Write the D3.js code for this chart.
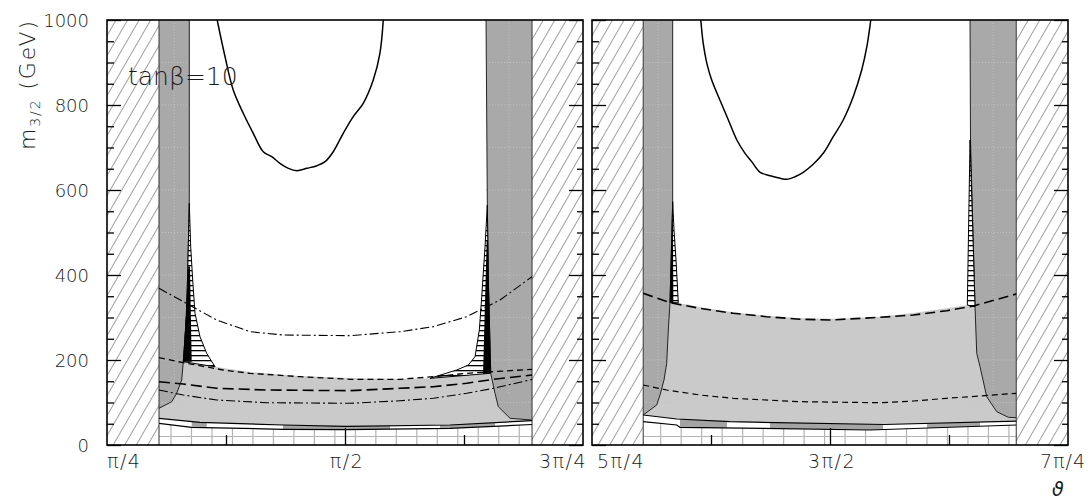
<!DOCTYPE html>
<html><head><meta charset="utf-8">
<script src="https://cdn.jsdelivr.net/npm/d3@7"></script>
<style>
html,body{margin:0;padding:0;background:#fff;}
svg{display:block;}
text{font-family:'DejaVu Sans',sans-serif;font-weight:200;fill:#1a1a1a;}
</style></head><body>
<svg id="chart" width="1088" height="499"></svg>
<script>
const PI = Math.PI;

// ---------- axis values ----------
const yMajorTicks = [0, 200, 400, 600, 800, 1000];
const yMinorTicks = d3.range(0, 1001, 50);
const xTickLabelsL = [{v: PI/4, t: 'π/4'}, {v: PI/2, t: 'π/2'}, {v: 3*PI/4, t: '3π/4'}];
const xTickLabelsR = [{v: 5*PI/4, t: '5π/4'}, {v: 3*PI/2, t: '3π/2'}, {v: 7*PI/4, t: '7π/4'}];

// ---------- left panel (theta in [pi/4, 3pi/4]) ----------
const allowedL = [0.957, 2.188];
const stripInnerL1 = [[1.057,1000],[1.057,568.7],[1.0537,466.6],[1.0484,309.9],[1.0372,196],[1.0319,152.9],[1.0154,121.6],[0.9989,101.9],[0.957,86.4]];
const stripInnerL2 = [[2.0362,1000],[2.0405,564.7],[2.0438,388.2],[2.0494,231.3],[2.0517,168.7],[2.0659,121.6],[2.0768,90.1],[2.1154,62.8],[2.188,58.8]];
const spikeL1 = [[1.057,568.7],[1.0537,466.6],[1.0484,309.9],[1.0372,196],[1.1418,184.2],[1.1144,215.8],[1.0923,254.8],[1.0758,309.9],[1.0682,388.2],[1.0616,466.6]];
const solidL1 = [[1.0535,420],[1.0592,420],[1.0649,196],[1.0372,196]];
const spikeL2 = [[2.0405,564.7],[2.0438,388.2],[2.0494,231.3],[2.0517,168.7],[1.8514,156.9],[1.9395,176.5],[1.9778,188.2],[1.9999,207.8],[2.0141,270.6],[2.0220,348.9],[2.0329,466.6]];
const solidL2 = [[2.0385,482.4],[2.0425,482.4],[2.0510,169.4],[2.0263,167.1]];
const lightTopL = [[0.957,196],[1.0372,196],[1.1418,184.2],[1.2573,171.8],[1.4224,162.4],[1.5874,157.6],[1.7524,155.3],[1.8514,156.9],[2.0517,168.7],[2.188,168.7]];
const upperLineL = [[0.957,62.8],[1.0923,53.4],[1.3672,47.1],[1.5742,44],[1.9174,47.1],[2.188,57.2]];
const lowerLineL = [[0.957,51.1],[1.0649,41.6],[1.3672,36.9],[1.5742,36],[1.9174,39.3],[2.188,48.2]];
const patchesL = [[1.0649,1.1144],[1.3663,1.7194],[1.8844,2.0659]];
const dashDotUpperL = [[0.957,368.7],[1.0372,337.2],[1.1474,294.1],[1.2573,266.6],[1.3672,258.8],[1.5874,257.2],[1.7524,266.6],[1.8623,278.4],[1.9725,301.9],[2.0273,321.6],[2.0824,341.2],[2.188,396]];
const shortDashL = [[0.957,205.4],[1.0372,193.6],[1.1692,176.5],[1.2573,168.7],[1.4224,160.7],[1.5874,154.6],[1.7524,154.6],[1.8623,160.7],[1.9725,168.7],[2.0603,172.5],[2.188,178.1]];
const longDashL = [[0.957,148.9],[1.0372,143.5],[1.1474,133.4],[1.3125,129.4],[1.5874,127.8],[1.7524,133.4],[1.8623,137.2],[1.9725,145.2],[2.0603,154.6],[2.188,164.7]];
const dashDotLowerL = [[0.957,129.4],[1.0372,117.6],[1.1474,105.9],[1.3125,99.5],[1.5874,98.1],[1.7524,104.2],[1.8623,109.9],[1.9725,121.6],[2.0603,133.4],[2.188,154]];
const contourL = [[1.149,1000],[1.175,913.6],[1.202,835.3],[1.235,780.5],[1.268,733.4],[1.301,690.1],[1.329,678.4],[1.356,662.8],[1.384,651],[1.412,645.4],[1.445,651],[1.478,657.2],[1.505,666.6],[1.532,690.1],[1.565,733.4],[1.598,772.5],[1.631,804],[1.664,858.8],[1.686,921.6],[1.697,1000]];

// ---------- right panel (theta in [5pi/4, 7pi/4]) ----------
const allowedR = [4.096, 5.327];
const stripInnerR1 = [[4.1933,1000],[4.1933,572.5],[4.1844,334.8],[4.1788,270.6],[4.1735,192.2],[4.1646,152.9],[4.1514,117.6],[4.1405,94.1],[4.096,70.6]];
const stripInnerR2 = [[5.1745,1000],[5.176,717.6],[5.191,325.4],[5.1966,215.8],[5.2075,184.2],[5.2296,113.6],[5.2626,78.4],[5.3009,65.2],[5.327,64.2]];
const spikeR1 = [[4.1933,572.5],[4.1844,334.8],[4.2118,334.8],[4.2042,435.3],[4.1976,505.9]];
const solidR1 = [[4.1933,572.5],[4.1844,334.8],[4.1955,334.8]];
const spikeR2 = [[5.1745,717.6],[5.191,325.4],[5.1656,329.4]];
const solidR2 = [];
const lightTopR = [[4.096,334.8],[4.1844,334.8],[4.2395,331.1],[4.2834,324],[4.3933,312.2],[4.5036,304.2],[4.6135,298.1],[4.7455,297.2],[4.8775,301.9],[4.9874,310.6],[5.0976,321.6],[5.1656,329.4],[5.191,325.4],[5.327,325.4]];
const upperLineR = [[4.096,70.6],[4.2065,61.2],[4.3824,54.8],[4.8907,48.2],[5.327,56]];
const lowerLineR = [[4.096,54.8],[4.2065,47.1],[4.2174,41.6],[4.4913,39.3],[4.8445,35.3],[5.327,47.1]];
const patchesR = [[4.2174,4.3725],[4.5145,4.8874],[5.0326,5.2075]];
const longDashR = [[4.096,356.9],[4.1844,334.8],[4.2834,321.6],[4.3933,309.9],[4.5036,301.9],[4.6135,295.8],[4.7125,294.1],[4.8775,300.5],[4.9874,305.9],[5.0976,316],[5.1854,327.1],[5.327,355.3]];
const shortDashR = [[4.096,141.2],[4.1735,129.4],[4.2834,117.6],[4.3933,109.9],[4.6135,101.9],[4.8775,99.5],[4.9874,103.5],[5.0976,109.9],[5.2075,115.3],[5.327,121.6]];
const contourR = [[4.286,1000],[4.294,945.2],[4.306,898.1],[4.322,858.8],[4.349,811.8],[4.377,764.7],[4.405,717.6],[4.432,686.3],[4.454,666.7],[4.482,641.6],[4.515,633.7],[4.548,627.5],[4.570,625.2],[4.597,631.3],[4.624,641.6],[4.657,660.5],[4.690,686.3],[4.723,725.4],[4.756,764.7],[4.789,819.5],[4.817,882.4],[4.834,937.2],[4.847,1000]];

// grid of the lowest excluded band: first line and spacing in theta
const gridStartL = 0.9966, gridStartR = 4.1537, gridStep = 0.0676, gridCount = 18;
const gridLevel = 20;

// ---------- layout ----------
const svg = d3.select('#chart');
const plotTop = 20, plotBottom = 445;
const y = d3.scaleLinear([0, 1000], [plotBottom, plotTop]);

const panels = [
  {id: 'L', domain: [PI/4, 3*PI/4], range: [107, 583], allowed: allowedL,
   strips: [stripInnerL1, stripInnerL2], spikes: [spikeL1, spikeL2], solids: [solidL1, solidL2],
   lightTop: lightTopL, upper: upperLineL, lower: lowerLineL, patches: patchesL,
   gridStart: gridStartL, contour: contourL, labels: xTickLabelsL,
   curves: [
     {d: dashDotUpperL, dash: '9,3,2,3', w: 1.1},
     {d: shortDashL, dash: '6,4', w: 1.3},
     {d: longDashL, dash: '11,5', w: 1.6},
     {d: dashDotLowerL, dash: '9,3,2,3', w: 1.1}
   ]},
  {id: 'R', domain: [5*PI/4, 7*PI/4], range: [592, 1068], allowed: allowedR,
   strips: [stripInnerR1, stripInnerR2], spikes: [spikeR1, spikeR2], solids: [solidR1, solidR2],
   lightTop: lightTopR, upper: upperLineR, lower: lowerLineR, patches: patchesR,
   gridStart: gridStartR, contour: contourR, labels: xTickLabelsR,
   curves: [
     {d: longDashR, dash: '10,5', w: 1.6},
     {d: shortDashR, dash: '6,4', w: 1.2}
   ]}
];

const defs = svg.append('defs');
// diagonal hatching of the excluded theta ranges
const diag = defs.append('pattern').attr('id', 'diag').attr('patternUnits', 'userSpaceOnUse')
  .attr('width', 10).attr('height', 10).attr('patternTransform', 'rotate(30)');
diag.append('rect').attr('width', 10).attr('height', 10).attr('fill', '#fff');
diag.append('line').attr('x1', 0.5).attr('x2', 0.5).attr('y1', 0).attr('y2', 10)
  .attr('stroke', '#959595').attr('stroke-width', 0.9);
// horizontal hatching of the narrow spikes
const hl = defs.append('pattern').attr('id', 'hlines').attr('patternUnits', 'userSpaceOnUse')
  .attr('width', 10).attr('height', 5);
hl.append('rect').attr('width', 10).attr('height', 5).attr('fill', '#fff');
hl.append('rect').attr('y', 0).attr('width', 10).attr('height', 1.3).attr('fill', '#000');

panels.forEach(p => {
  const x = d3.scaleLinear(p.domain, p.range);
  const line = d3.line().x(d => x(d[0])).y(d => y(d[1]));
  const smooth = d3.line().x(d => x(d[0])).y(d => y(d[1])).curve(d3.curveCatmullRom.alpha(0.5));
  const [a0, a1] = p.allowed;

  defs.append('clipPath').attr('id', 'clip' + p.id).append('rect')
    .attr('x', p.range[0]).attr('y', plotTop).attr('width', p.range[1] - p.range[0]).attr('height', plotBottom - plotTop);
  const band = p.upper.concat(p.lower.slice().reverse());
  defs.append('clipPath').attr('id', 'band' + p.id).append('path').attr('d', line(band) + 'Z');
  const gridArea = p.lower.concat([[a1, 0], [a0, 0]]);
  defs.append('clipPath').attr('id', 'grid' + p.id).append('path').attr('d', line(gridArea) + 'Z');

  const g = svg.append('g').attr('clip-path', `url(#clip${p.id})`);

  // light grey allowed region
  const light = p.lightTop.concat(p.upper.slice().reverse());
  g.append('path').attr('d', line(light) + 'Z').attr('fill', '#cacaca');

  // thin band between the two lower boundaries
  const bg = g.append('g').attr('clip-path', `url(#band${p.id})`);
  bg.append('path').attr('d', line(band) + 'Z').attr('fill', '#fff');
  bg.selectAll('rect.patch').data(p.patches).join('rect').attr('class', 'patch')
    .attr('x', d => x(d[0])).attr('width', d => x(d[1]) - x(d[0]))
    .attr('y', y(100)).attr('height', y(0) - y(100)).attr('fill', '#a4a4a4');

  // grid below the lowest line
  const gg = g.append('g').attr('clip-path', `url(#grid${p.id})`);
  const gridX = d3.range(gridCount).map(i => p.gridStart + i * gridStep);
  gg.selectAll('line.gv').data(gridX).join('line').attr('class', 'gv')
    .attr('x1', d => x(d)).attr('x2', d => x(d)).attr('y1', y(120)).attr('y2', y(0))
    .attr('stroke', '#b4b4b4').attr('stroke-width', 1.2);
  gg.append('line').attr('x1', x(a0)).attr('x2', x(a1)).attr('y1', y(gridLevel)).attr('y2', y(gridLevel))
    .attr('stroke', '#b4b4b4').attr('stroke-width', 1.2);

  // dark grey vertical strips along the edges of the allowed range
  const s1 = [[a0, 1000]].concat(p.strips[0]);
  const s2 = [[a1, 1000]].concat(p.strips[1]);
  [s1, s2].forEach(s => {
    g.append('path').attr('d', line(s) + 'Z').attr('fill', '#a9a9a9');
  });
  // faint dotted texture inside the strips
  [[a0, p.strips[0]], [a1, p.strips[1]]].forEach(([edge, inner]) => {
    const mid = (edge + inner[0][0]) / 2;
    const lowest = inner[inner.length - 1][1];
    g.append('line').attr('x1', x(mid)).attr('x2', x(mid)).attr('y1', y(1000)).attr('y2', y(lowest + 60))
      .attr('stroke', '#c2c2c2').attr('stroke-width', 1).attr('stroke-dasharray', '1,2');
    d3.range(100, 1000, 100).forEach(v => {
      g.append('line').attr('x1', x(Math.min(edge, inner[0][0]))).attr('x2', x(Math.max(edge, inner[0][0])))
        .attr('y1', y(v)).attr('y2', y(v)).attr('stroke', '#c2c2c2').attr('stroke-width', 1).attr('stroke-dasharray', '1,2');
    });
  });
  p.strips.forEach(s => {
    g.append('path').attr('d', line(s)).attr('fill', 'none').attr('stroke', '#222').attr('stroke-width', 1);
  });

  // horizontally hatched spikes
  p.spikes.forEach(s => {
    g.append('path').attr('d', line(s) + 'Z').attr('fill', 'url(#hlines)')
      .attr('stroke', '#000').attr('stroke-width', 1);
  });
  p.solids.filter(s => s.length).forEach(s => {
    g.append('path').attr('d', line(s) + 'Z').attr('fill', '#000');
  });

  // excluded theta ranges
  [[p.domain[0], a0], [a1, p.domain[1]]].forEach(([u, v]) => {
    g.append('rect').attr('x', x(u)).attr('width', x(v) - x(u)).attr('y', plotTop).attr('height', plotBottom - plotTop)
      .attr('fill', 'url(#diag)');
  });
  [a0, a1].forEach(v => {
    g.append('line').attr('x1', x(v)).attr('x2', x(v)).attr('y1', plotTop).attr('y2', plotBottom)
      .attr('stroke', '#333').attr('stroke-width', 1);
  });

  // boundary curves
  p.curves.forEach(c => {
    g.append('path').attr('d', line(c.d)).attr('fill', 'none').attr('stroke', '#000')
      .attr('stroke-width', c.w).attr('stroke-dasharray', c.dash);
  });
  [p.upper, p.lower].forEach(l => {
    g.append('path').attr('d', line(l)).attr('fill', 'none').attr('stroke', '#000').attr('stroke-width', 1.2);
  });
  g.append('path').attr('d', smooth(p.contour)).attr('fill', 'none').attr('stroke', '#000').attr('stroke-width', 1.5);

  // frame
  svg.append('rect').attr('x', p.range[0]).attr('y', plotTop).attr('width', p.range[1] - p.range[0])
    .attr('height', plotBottom - plotTop).attr('fill', 'none').attr('stroke', '#000').attr('stroke-width', 1.6);

  // y ticks on both sides, pointing inwards
  const minor = yMinorTicks.filter(v => !yMajorTicks.includes(v));
  const addTicks = (axisFn, xpos, vals, size) => {
    const ax = svg.append('g').attr('transform', `translate(${xpos},0)`)
      .call(axisFn(y).tickValues(vals).tickSize(size).tickFormat(''));
    ax.select('.domain').remove();
    ax.selectAll('line').attr('stroke', '#000').attr('stroke-width', 1.3);
  };
  addTicks(d3.axisRight, p.range[0], minor, 7);
  addTicks(d3.axisRight, p.range[0], yMajorTicks, 14);
  addTicks(d3.axisLeft, p.range[1], minor, 6);
  addTicks(d3.axisLeft, p.range[1], yMajorTicks, 14);

  // theta ticks on the bottom edge
  const c = (p.domain[0] + p.domain[1]) / 2;
  const bx = (vals, size) => {
    const ax = svg.append('g').attr('transform', `translate(0,${plotBottom})`)
      .call(d3.axisTop(x).tickValues(vals).tickSize(size).tickFormat(''));
    ax.select('.domain').remove();
    ax.selectAll('line').attr('stroke', '#000').attr('stroke-width', 1.3);
  };
  bx([c - PI/8, c + PI/8], 10);
  bx([c], 17);

  // theta labels
  p.labels.forEach((l, i) => {
    let anchor = 'middle', dx = 2;
    if (p.id === 'L' && i === 0) { anchor = 'start'; dx = 0; }
    if (p.id === 'L' && i === 2) { anchor = 'end'; dx = 4; }
    if (p.id === 'R' && i === 0) { anchor = 'start'; dx = 5; }
    if (p.id === 'R' && i === 2) { anchor = 'end'; dx = 18; }
    svg.append('text').attr('x', x(l.v) + dx).attr('y', 468).attr('text-anchor', anchor)
      .attr('font-size', 19).attr('letter-spacing', i === 2 && p.id === 'R' ? 1 : 1.5).text(l.t);
  });
});

// y tick labels
svg.append('g').selectAll('text').data(yMajorTicks).join('text')
  .attr('x', 89).attr('y', d => y(d) + 7).attr('text-anchor', 'end').attr('font-size', 18).text(d => d);

// y title
const yt = svg.append('text').attr('transform', 'translate(35,150) rotate(-90)').attr('font-size', 22)
  .attr('textLength', 129).attr('lengthAdjust', 'spacing');
yt.append('tspan').text('m');
yt.append('tspan').attr('font-size', 14).attr('dy', 5).text('3/2');
yt.append('tspan').attr('dy', -5).text(' (GeV)');

// panel annotation
svg.append('text').attr('x', 128).attr('y', 85).attr('font-size', 25).text('tanβ=10');

// x title
svg.append('text').attr('x', 1052).attr('y', 496).attr('font-size', 19).attr('font-style', 'italic').text('ϑ');
</script>
</body></html>
